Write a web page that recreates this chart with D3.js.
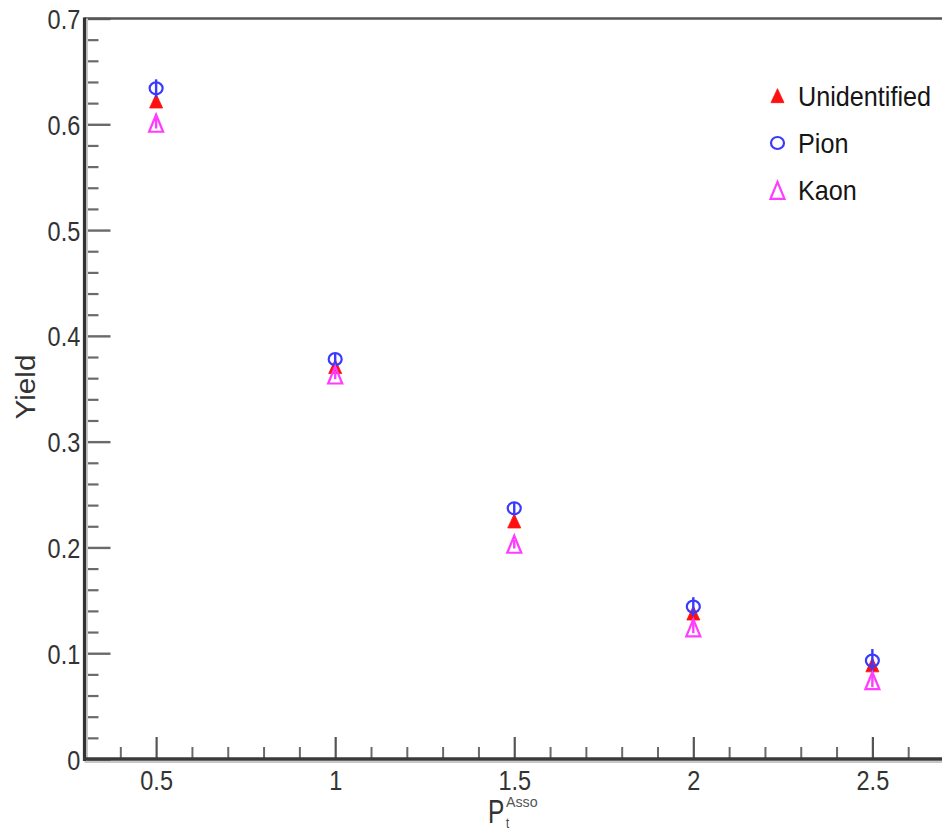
<!DOCTYPE html>
<html>
<head>
<meta charset="utf-8">
<script src="https://cdn.jsdelivr.net/npm/d3@7"></script>
<style>
  html, body { margin: 0; padding: 0; background: #ffffff; }
  svg { display: block; }
  text { font-family: "Liberation Sans", Arial, sans-serif; }
</style>
</head>
<body>
<script>
// Associated-particle yield versus Pt (Asso)
const ptValues = [0.5, 1, 1.5, 2, 2.5];

const unidentifiedYield = [0.622, 0.371, 0.225, 0.138, 0.089];
const unidentifiedErr   = [0.004, 0.003, 0.003, 0.004, 0.005];

const pionYield = [0.634, 0.378, 0.237, 0.144, 0.093];
const pionErr   = [0.0085, 0.005, 0.006, 0.009, 0.011];

const kaonYield = [0.601, 0.363, 0.203, 0.124, 0.074];
const kaonErr   = [0.005, 0.004, 0.004, 0.005, 0.006];

const legendLabels = ["Unidentified", "Pion", "Kaon"];

const xTicks = [0.5, 1, 1.5, 2, 2.5];
const xTickLabels = ["0.5", "1", "1.5", "2", "2.5"];
const yTicks = [0, 0.1, 0.2, 0.3, 0.4, 0.5, 0.6, 0.7];
const yTickLabels = ["0", "0.1", "0.2", "0.3", "0.4", "0.5", "0.6", "0.7"];

const W = 942, H = 830;
const svg = d3.select("body").append("svg").attr("width", W).attr("height", H);

const x = d3.scaleLinear().domain([0.3, 2.7]).range([84.5, 944]);
const y = d3.scaleLinear().domain([0, 0.7]).range([759, 18.5]);

const narrow = 0.84;      // horizontal squeeze of the glyphs
const tickCol = "#6a6a6a";

// minor tick positions
const xMinor = d3.range(4, 27).map(d => d / 10).filter(d => Math.abs(d * 2 - Math.round(d * 2)) > 1e-6);
const yMinor = d3.range(0, 36).map(d => d / 50).filter(d => Math.abs(d * 10 - Math.round(d * 10)) > 1e-6);

// ---- y axis ----
const gyMinor = svg.append("g").attr("transform", `translate(${x(0.3)},0)`)
  .call(d3.axisLeft(y).tickValues(yMinor).tickSize(-14).tickFormat(""));
gyMinor.select(".domain").remove();
gyMinor.selectAll("line").attr("stroke", tickCol).attr("stroke-width", 2.2);

const gy = svg.append("g").attr("transform", `translate(${x(0.3)},0)`)
  .call(d3.axisLeft(y).tickValues(yTicks).tickSize(-26).tickPadding(5)
    .tickFormat((d, i) => yTickLabels[i]));
gy.select(".domain").remove();
gy.selectAll("line").attr("stroke", tickCol).attr("stroke-width", 2.4);
gy.selectAll("text")
  .attr("font-size", 28).attr("fill", "#333")
  .attr("dy", "0.36em")
  .attr("transform", `scale(${narrow},1)`);

// ---- x axis ----
const gxMinor = svg.append("g").attr("transform", `translate(0,${y(0)})`)
  .call(d3.axisBottom(x).tickValues(xMinor).tickSize(-12).tickFormat(""));
gxMinor.select(".domain").remove();
gxMinor.selectAll("line").attr("stroke", tickCol).attr("stroke-width", 2);

const gx = svg.append("g").attr("transform", `translate(0,${y(0)})`)
  .call(d3.axisBottom(x).tickValues(xTicks).tickSize(-22).tickPadding(11)
    .tickFormat((d, i) => xTickLabels[i]));
gx.select(".domain").remove();
gx.selectAll("line").attr("stroke", "#555").attr("stroke-width", 2.2);
gx.selectAll("text")
  .attr("font-size", 28).attr("fill", "#333")
  .attr("transform", `scale(${narrow},1)`);

// ---- frame ----
svg.append("line")
  .attr("x1", x(0.3)).attr("x2", x(2.7)).attr("y1", y(0.7)).attr("y2", y(0.7))
  .attr("stroke", "#555").attr("stroke-width", 2.7);
svg.append("line")
  .attr("x1", x(0.3) + 2.5).attr("x2", x(0.3) + 2.5).attr("y1", y(0.7)).attr("y2", y(0) + 2)
  .attr("stroke", "#c8c8c8").attr("stroke-width", 2);
svg.append("line")
  .attr("x1", x(0.3)).attr("x2", x(0.3)).attr("y1", y(0.7) - 1).attr("y2", y(0) + 2)
  .attr("stroke", "#333").attr("stroke-width", 3.2);
svg.append("line")
  .attr("x1", x(0.3)).attr("x2", x(2.7)).attr("y1", y(0) + 3).attr("y2", y(0) + 3)
  .attr("stroke", "#c8c8c8").attr("stroke-width", 2);
svg.append("line")
  .attr("x1", x(0.3) - 1.5).attr("x2", x(2.7)).attr("y1", y(0)).attr("y2", y(0))
  .attr("stroke", "#3a3a3a").attr("stroke-width", 3.6);

// ---- axis titles ----
svg.append("text")
  .attr("transform", `translate(35,387) rotate(-90) scale(1.06,1)`)
  .attr("text-anchor", "middle")
  .attr("font-size", 28).attr("fill", "#333")
  .text("Yield");

svg.append("text")
  .attr("transform", `translate(488,823) scale(0.72,1)`)
  .attr("font-size", 34).attr("fill", "#333")
  .text("P");
svg.append("text")
  .attr("transform", `translate(506,828) scale(0.8,1)`)
  .attr("font-size", 14).attr("fill", "#444")
  .text("t");
svg.append("text")
  .attr("transform", `translate(506,807) scale(0.95,1)`)
  .attr("font-size", 15).attr("fill", "#555")
  .text("Asso");

// ---- marker shapes ----
const triPath = (hw, h) => `M0,${-h / 2}L${hw},${h / 2}L${-hw},${h / 2}Z`;

const series = [
  { name: legendLabels[0], vals: unidentifiedYield, errs: unidentifiedErr, color: "#ff1010", kind: "filledTri" },
  { name: legendLabels[1], vals: pionYield, errs: pionErr, color: "#3a3aff", kind: "openCircle" },
  { name: legendLabels[2], vals: kaonYield, errs: kaonErr, color: "#ff3cff", kind: "openTri" }
];

function drawMarker(sel, kind, color) {
  if (kind === "filledTri") {
    sel.append("path").attr("d", triPath(6.5, 14)).attr("fill", color).attr("stroke", color).attr("stroke-width", 0.8);
  } else if (kind === "openCircle") {
    sel.append("ellipse").attr("rx", 6.5).attr("ry", 6).attr("fill", "none").attr("stroke", color).attr("stroke-width", 2.2);
  } else {
    sel.append("path").attr("d", triPath(7, 17)).attr("fill", "none").attr("stroke", color).attr("stroke-width", 2.2);
  }
}

series.forEach(s => {
  const g = svg.append("g");
  // error bars
  g.selectAll("line.err").data(ptValues).join("line")
    .attr("class", "err")
    .attr("x1", d => x(d)).attr("x2", d => x(d))
    .attr("y1", (d, i) => y(s.vals[i] - s.errs[i]))
    .attr("y2", (d, i) => y(s.vals[i] + s.errs[i]))
    .attr("stroke", s.color).attr("stroke-width", 2.4);
  // markers
  g.selectAll("g.pt").data(ptValues).join("g")
    .attr("class", "pt")
    .attr("transform", (d, i) => `translate(${x(d)},${y(s.vals[i])})`)
    .each(function () { drawMarker(d3.select(this), s.kind, s.color); });
});

// ---- legend ----
const legendY = d3.scaleBand().domain(legendLabels).range([72, 214]);
const leg = svg.append("g");
series.forEach(s => {
  const cy = legendY(s.name) + legendY.bandwidth() / 2;
  const m = leg.append("g").attr("transform", `translate(777.5,${cy})`);
  drawMarker(m, s.kind, s.color);
  leg.append("text")
    .attr("transform", `translate(798,${cy + 10}) scale(0.9,1)`)
    .attr("font-size", 28).attr("fill", "#151515")
    .text(s.name);
});
</script>
</body>
</html>
